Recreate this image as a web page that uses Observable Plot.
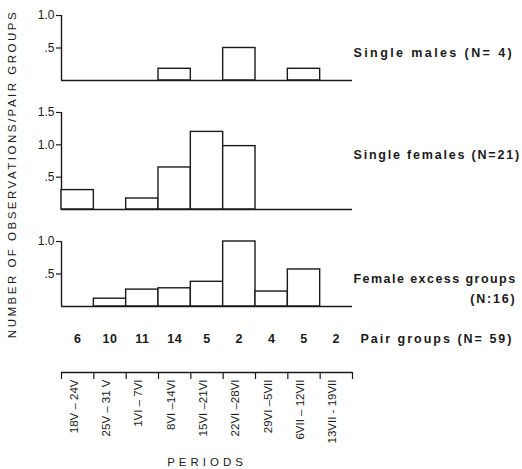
<!DOCTYPE html>
<html>
<head>
<meta charset="utf-8">
<script src="https://cdn.jsdelivr.net/npm/d3@7"></script>
<script src="https://cdn.jsdelivr.net/npm/@observablehq/plot@0.6"></script>
<style>
  html, body { margin: 0; padding: 0; background: #fff; }
  #chart { position: relative; width: 522px; height: 469px; overflow: hidden; font-family: "Liberation Sans", Arial, sans-serif; color: #1a1a1a; }
  #chart > svg { position: absolute; left: 0; }
  #ylabel { position: absolute; left: 12px; top: 174px; transform: translate(-50%, -50%) rotate(-90deg); white-space: nowrap; font-size: 11.5px; letter-spacing: 2.5px; color: #1a1a1a; }
</style>
</head>
<body>
<div id="chart"><div id="ylabel">NUMBER OF OBSERVATIONS/PAIR GROUPS</div></div>
<script>
const periods = ["18V – 24V", "25V – 31 V", "1VI – 7VI", "8VI –14VI", "15VI –21VI", "22VI –28VI", "29VI –5VII", "6VII – 12VII", "13VII - 19VII"];
const singleMales = [0, 0, 0, 0.18, 0, 0.5, 0, 0.18, 0];
const singleFemales = [0.3, 0, 0.17, 0.65, 1.2, 0.98, 0, 0, 0];
const femaleExcess = [0, 0.12, 0.26, 0.28, 0.38, 1.0, 0.23, 0.57, 0];
const pairGroups = [6, 10, 11, 14, 5, 2, 4, 5, 2];
const ticks10 = [0.5, 1.0];
const ticks15 = [0.5, 1.0, 1.5];
const tickFmt = d => d === 0.5 ? ".5" : d.toFixed(1);

const ink = "#1a1a1a";
const chart = document.getElementById("chart");
const baseStyle = {fontFamily: "Liberation Sans, Arial, sans-serif", fontSize: "11px", color: ink, background: "transparent", overflow: "visible"};
const labelFont = {fontWeight: "bold", fontSize: 12.5, fill: ink};

// apply letter-spacing to the text-mark groups (in order) of a plot
function spaceText(svg, spacings) {
  const groups = svg.querySelectorAll('g[aria-label="text"]');
  groups.forEach((g, k) => {
    if (spacings[k] != null) g.setAttribute("letter-spacing", spacings[k]);
  });
}

function panel(values, yMax, yTicks, top, height, marginTop, labels) {
  const data = values.map((v, i) => ({i, v})).filter(d => d.v > 0);
  const svg = Plot.plot({
    width: 522, height, marginLeft: 61, marginRight: 170, marginTop, marginBottom: 10,
    style: baseStyle,
    x: {domain: [0, periods.length], axis: null},
    y: {domain: [0, yMax], axis: null},
    marks: [
      Plot.axisY({ticks: yTicks, tickFormat: tickFmt, label: null, tickSize: 5, tickPadding: 2, fontSize: 12, stroke: ink, strokeWidth: 1.2}),
      Plot.ruleX([0], {y1: 0, y2: yMax, stroke: ink, strokeWidth: 1.4}),
      Plot.rectY(data, {x1: "i", x2: d => d.i + 1, y: "v", fill: "white", stroke: ink, strokeWidth: 1.4}),
      Plot.ruleY([0], {stroke: ink, strokeWidth: 1.4}),
      ...labels.map(l => Plot.text([l.text], {frameAnchor: "top-right", dx: l.dx, dy: l.dy, textAnchor: l.anchor || "start", ...labelFont}))
    ]
  });
  spaceText(svg, labels.map(l => l.spacing));
  svg.style.top = top + "px";
  chart.appendChild(svg);
}

panel(singleMales, 1.0, ticks10, 0, 90, 15, [{text: "Single males (N= 4)", dx: 1, dy: 33, spacing: 2.4}]);
panel(singleFemales, 1.5, ticks15, 100, 119, 12, [{text: "Single females (N=21)", dx: 1, dy: 38, spacing: 1.8}]);
panel(femaleExcess, 1.0, ticks10, 229, 87, 12, [
  {text: "Female excess groups", dx: 1, dy: 33, spacing: 1.45},
  {text: "(N:16)", dx: 164, dy: 53, anchor: "end", spacing: 1.8}
]);

// Bottom: pair-group counts and period axis
const bottom = Plot.plot({
  width: 522, height: 149, marginLeft: 61, marginRight: 170, marginTop: 0, marginBottom: 97,
  style: baseStyle,
  x: {domain: [0, periods.length], axis: null},
  y: {domain: [0, 1], axis: null},
  marks: [
    Plot.axisX({anchor: "bottom", ticks: d3.range(periods.length + 1), tickFormat: () => "", label: null, tickSize: 7, stroke: ink, strokeWidth: 1.2}),
    Plot.ruleY([0], {stroke: ink, strokeWidth: 1.4}),
    Plot.text(pairGroups, {x: (d, i) => i + 0.5, text: d => String(d), frameAnchor: "top", dy: 14, ...labelFont}),
    Plot.text(["Pair groups (N= 59)"], {frameAnchor: "top-right", dx: 8, dy: 14, textAnchor: "start", ...labelFont}),
    Plot.text(periods, {x: (d, i) => i + 0.5, frameAnchor: "bottom", dy: 7, rotate: -90, textAnchor: "end", fontSize: 11.5, fill: ink}),
    Plot.text(["PERIODS"], {frameAnchor: "bottom", dy: 93, fontSize: 11.5, fill: ink})
  ]
});
spaceText(bottom, [0.5, 2.0, null, 4]);
bottom.style.top = "320px";
chart.appendChild(bottom);
</script>
</body>
</html>
